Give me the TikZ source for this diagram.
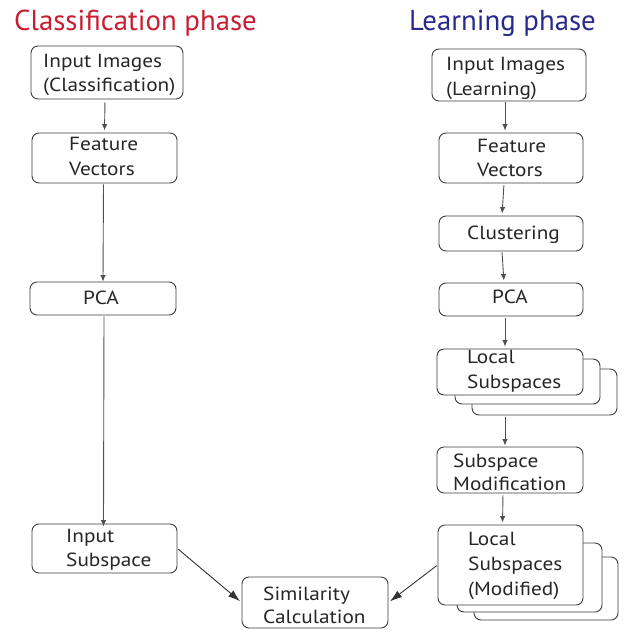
\documentclass[tikz,border=0pt]{standalone}
\usepackage{fontspec}
\setmainfont{PT Sans}
\usetikzlibrary{fit,arrows.meta}
\definecolor{titlered}{RGB}{200,30,50}
\definecolor{titleblue}{RGB}{40,42,140}
\definecolor{boxline}{RGB}{60,60,60}
\definecolor{arrline}{RGB}{80,80,80}
\newfontfamily\boxfont[FakeStretch=1.12]{PT Sans}
\begin{document}
\begin{tikzpicture}[x=1pt,y=-1pt,
  bx/.style={draw=boxline,line width=0.9pt,rounded corners=7pt,fill=white,inner sep=0pt},
  tx/.style={anchor=base west,inner sep=0pt,font=\boxfont\fontsize{19}{22}\selectfont,text=black!85},
  ttl/.style={anchor=base west,inner sep=0pt,font=\fontsize{28.8}{34}\selectfont},
  arr/.style={draw=arrline,line width=0.9pt,-{Latex[length=6.5pt,width=5.5pt]}},
  barr/.style={draw=black!80,line width=0.9pt,-{Latex[length=12pt,width=8pt]}}]
\useasboundingbox (0,0) rectangle (634,632);
% titles
\node[ttl,text=titlered] (tl) at (14,30) {Classification phase};
\node[ttl,text=titleblue] (tr) at (409,30) {Learning phase};
% left column
\node[bx,fit={(31,46) (183,99)}] (A1) {};
\node[tx] (a1a) at (43,67) {Input Images};
\node[tx] (a1b) at (43,91) {(Classification)};
\node[bx,fit={(32,133) (177,183)}] (A2) {};
\node[tx] (a2a) at (69,150) {Feature};
\node[tx] (a2b) at (69,175) {Vectors};
\node[bx,fit={(30,282) (176,315)}] (A3) {};
\node[tx] (a3) at (83,304) {PCA};
\node[bx,fit={(32,524) (177,573)}] (A4) {};
\node[tx] (a4a) at (66,542) {Input};
\node[tx] (a4b) at (66,566) {Subspace};
\node[bx,fit={(242,577) (388,628)}] (S) {};
\node[tx] (sa) at (263,600) {Similarity};
\node[tx] (sb) at (263,623) {Calculation};
% right column
\node[bx,fit={(432,49) (586,101)}] (B1) {};
\node[tx] (b1a) at (446,70) {Input Images};
\node[tx] (b1b) at (446,95) {(Learning)};
\node[bx,fit={(439,133) (583,183)}] (B2) {};
\node[tx] (b2a) at (477,152) {Feature};
\node[tx] (b2b) at (477,176) {Vectors};
\node[bx,fit={(439,216) (583,251)}] (B3) {};
\node[tx] (b3) at (467,239) {Clustering};
\node[bx,fit={(439,283) (583,316)}] (B4) {};
\node[tx] (b4) at (492,303) {PCA};
\node[bx,fit={(472,369) (617,415)}] (B5c) {};
\node[bx,fit={(455,359) (600,404)}] (B5b) {};
\node[bx,fit={(437,349) (583,395)}] (B5) {};
\node[tx] (b5a) at (467,363) {Local};
\node[tx] (b5b) at (467,388) {Subspaces};
\node[bx,fit={(437,447) (583,493)}] (B6) {};
\node[tx] (b6a) at (453,467) {Subspace};
\node[tx] (b6b) at (453,490) {Modification};
\node[bx,fit={(474,557) (618,620)}] (B7c) {};
\node[bx,fit={(457,543) (602,612)}] (B7b) {};
\node[bx,fit={(438,525) (583,605)}] (B7) {};
\node[tx] (b7a) at (468,545) {Local};
\node[tx] (b7b) at (468,570) {Subspaces};
\node[tx] (b7c) at (468,595) {(Modified)};
% connectors left
\draw[arr,shorten <=3pt,shorten >=2pt] ([xshift=-2pt]A1.south) -- (A2.north);
\draw[arr,shorten <=1pt] ([xshift=-1pt]A2.south) -- ([xshift=0pt]A3.north);
\draw[arr,shorten <=1pt,shorten >=-3pt] ([xshift=1pt]A3.south) -- ([xshift=-1pt]A4.north);
\draw[barr,shorten <=1pt,shorten >=2pt] (A4.east) -- (S.west);
\draw[barr,shorten <=1pt,shorten >=2pt] (B7.west) -- (S.east);
% connectors right
\draw[arr,shorten <=1pt,shorten >=2pt] ([xshift=-4pt]B1.south) -- ([xshift=-6pt]B2.north);
\draw[arr,shorten <=2pt,shorten >=2pt] ([xshift=-7pt]B2.south) -- ([xshift=-9pt]B3.north);
\draw[arr,shorten <=1pt,shorten >=2pt] ([xshift=-9pt]B3.south) -- ([xshift=-7pt]B4.north);
\draw[arr,shorten <=2pt,shorten >=2pt] ([xshift=-6pt]B4.south) -- ([xshift=-5pt]B5.north);
\draw[arr,shorten <=2pt,shorten >=1pt] ([xshift=-5pt]B5.south |- B5c.south) -- ([xshift=-5pt]B6.north);
\draw[arr,shorten <=2pt,shorten >=2pt] ([xshift=-7pt]B6.south) -- ([xshift=-8pt]B7.north);
\end{tikzpicture}
\end{document}
